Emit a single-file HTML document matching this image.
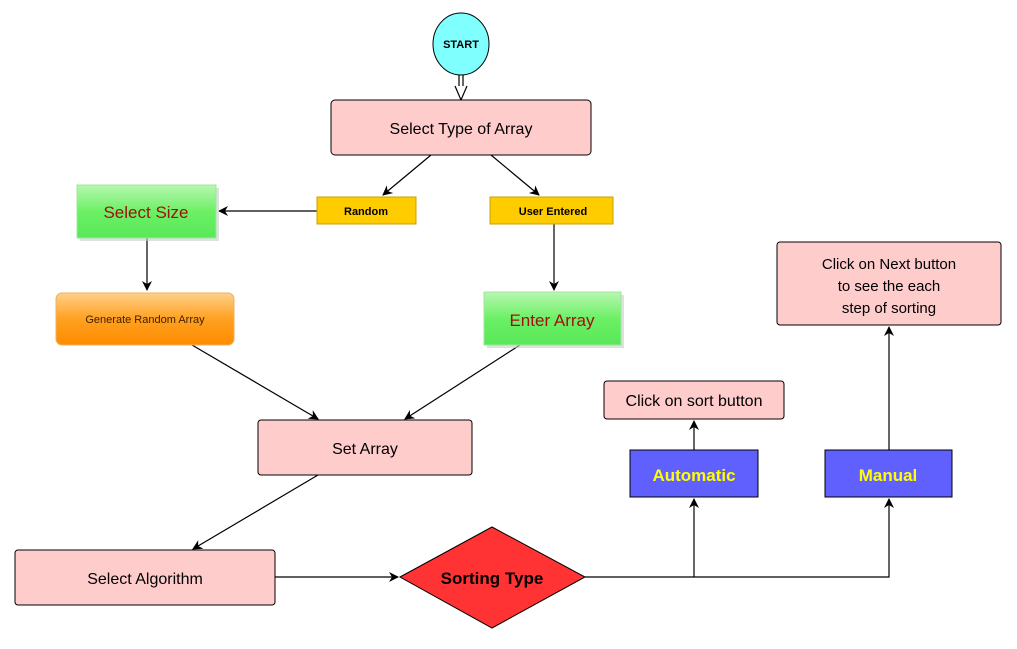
<!DOCTYPE html>
<html><head><meta charset="utf-8"><style>
body{margin:0;background:#fff;}
svg text{font-family:"Liberation Sans",Arial,sans-serif;}
</style></head><body>
<svg width="1017" height="644" viewBox="0 0 1017 644" xmlns="http://www.w3.org/2000/svg">
<defs>
<marker id="a" markerWidth="10" markerHeight="10" refX="9" refY="5" orient="auto" markerUnits="userSpaceOnUse">
<path d="M0,0 L10,5 L0,10 L3,5 z" fill="#000"/></marker>
<linearGradient id="g" x1="0" y1="0" x2="0" y2="1"><stop offset="0" stop-color="#b8f7b0"/><stop offset="0.5" stop-color="#6cf065"/><stop offset="1" stop-color="#58e858"/></linearGradient>
<linearGradient id="o" x1="0" y1="0" x2="0" y2="1"><stop offset="0" stop-color="#ffd08a"/><stop offset="0.5" stop-color="#ffa020"/><stop offset="1" stop-color="#ff8c00"/></linearGradient>
</defs>
<g stroke="#000" stroke-width="1.2" fill="none">
<line x1="459" y1="75" x2="459" y2="90"/><line x1="463" y1="75" x2="463" y2="90"/>
<path d="M455,86 L461,100 L467,86" fill="#fff"/>
<line x1="431" y1="155" x2="383" y2="195" marker-end="url(#a)"/>
<line x1="491" y1="155" x2="539" y2="195" marker-end="url(#a)"/>
<line x1="317" y1="211" x2="219" y2="211" marker-end="url(#a)"/>
<line x1="147" y1="238" x2="147" y2="290" marker-end="url(#a)"/>
<line x1="554" y1="224" x2="554" y2="290" marker-end="url(#a)"/>
<line x1="192" y1="345" x2="318" y2="419" marker-end="url(#a)"/>
<line x1="520" y1="345" x2="405" y2="419" marker-end="url(#a)"/>
<line x1="318" y1="475" x2="193" y2="549" marker-end="url(#a)"/>
<line x1="275" y1="577" x2="398" y2="577" marker-end="url(#a)"/>
<polyline points="585,577 889,577 889,499" marker-end="url(#a)"/>
<line x1="694" y1="577" x2="694" y2="499" marker-end="url(#a)"/>
<line x1="694" y1="450" x2="694" y2="421" marker-end="url(#a)"/>
<line x1="889" y1="450" x2="889" y2="327" marker-end="url(#a)"/>
</g>
<ellipse cx="461" cy="44" rx="28" ry="31" fill="#80ffff" stroke="#000"/>
<text x="461" y="48" font-size="11" font-weight="bold" text-anchor="middle">START</text>
<rect x="331" y="100" width="260" height="55" rx="4" fill="#ffcccc" stroke="#000"/>
<text x="461" y="134" font-size="16" text-anchor="middle">Select Type of Array</text>
<rect x="317" y="197" width="99" height="27" fill="#ffcc00" stroke="#c9a000"/>
<text x="366" y="215" font-size="11" font-weight="bold" text-anchor="middle">Random</text>
<rect x="490" y="197" width="123" height="27" fill="#ffcc00" stroke="#c9a000"/>
<text x="553" y="215" font-size="11" font-weight="bold" text-anchor="middle">User Entered</text>
<rect x="80" y="188" width="139" height="53" fill="#ccc" opacity="0.6"/>
<rect x="77" y="185" width="139" height="53" fill="url(#g)" stroke="#9be89b"/>
<text x="146" y="218" font-size="17" fill="#a01010" text-anchor="middle">Select Size</text>
<rect x="56" y="293" width="178" height="52" rx="6" fill="url(#o)" stroke="#f0b060"/>
<text x="145" y="323" font-size="11" fill="#402000" text-anchor="middle">Generate Random Array</text>
<rect x="487" y="295" width="137" height="53" fill="#ccc" opacity="0.6"/>
<rect x="484" y="292" width="137" height="53" fill="url(#g)" stroke="#9be89b"/>
<text x="552" y="326" font-size="17" fill="#a01010" text-anchor="middle">Enter Array</text>
<rect x="258" y="420" width="214" height="55" rx="3" fill="#ffcccc" stroke="#000"/>
<text x="365" y="454" font-size="16" text-anchor="middle">Set Array</text>
<rect x="15" y="550" width="260" height="55" rx="3" fill="#ffcccc" stroke="#000"/>
<text x="145" y="584" font-size="16" text-anchor="middle">Select Algorithm</text>
<polygon points="400,577 492,527 585,577 492,628" fill="#ff3333" stroke="#000"/>
<text x="492" y="584" font-size="17" font-weight="bold" text-anchor="middle">Sorting Type</text>
<rect x="630" y="450" width="128" height="47" fill="#6060ff" stroke="#000"/>
<text x="694" y="481" font-size="17" font-weight="bold" fill="#ffff00" text-anchor="middle">Automatic</text>
<rect x="825" y="450" width="127" height="47" fill="#6060ff" stroke="#000"/>
<text x="888" y="481" font-size="17" font-weight="bold" fill="#ffff00" text-anchor="middle">Manual</text>
<rect x="604" y="381" width="180" height="38" rx="3" fill="#ffcccc" stroke="#000"/>
<text x="694" y="406" font-size="16" text-anchor="middle">Click on sort button</text>
<rect x="777" y="242" width="224" height="83" rx="3" fill="#ffcccc" stroke="#000"/>
<text x="889" y="269" font-size="15" text-anchor="middle">Click on Next button</text>
<text x="889" y="291" font-size="15" text-anchor="middle">to see the each</text>
<text x="889" y="313" font-size="15" text-anchor="middle">step of sorting</text>
</svg>
</body></html>
